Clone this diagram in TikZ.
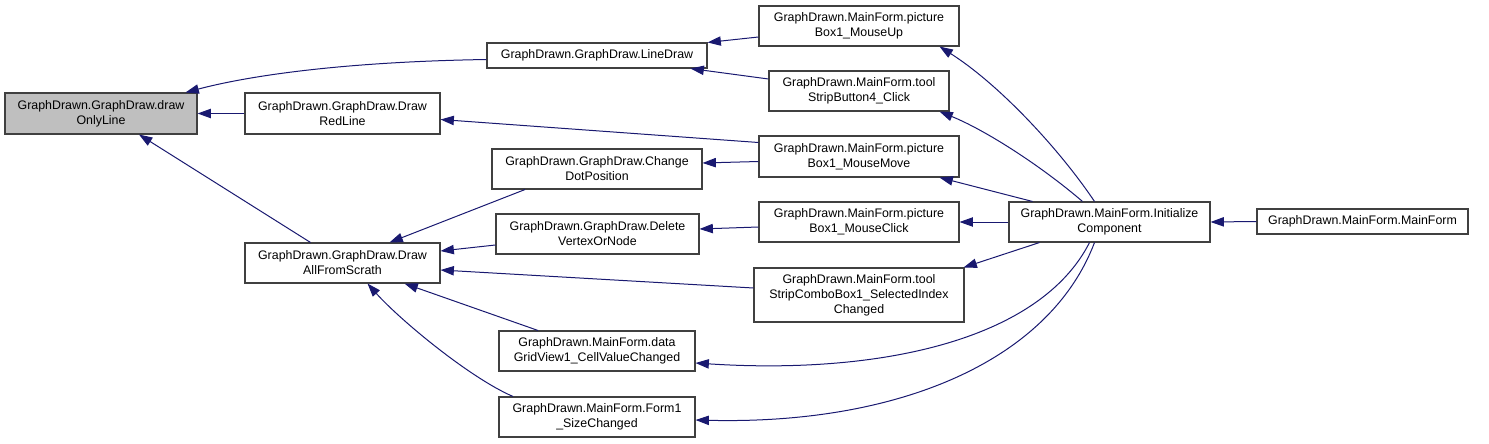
\documentclass[tikz,border=0pt]{standalone}
\usepackage{fontspec}
\setmainfont{Liberation Sans}
\usetikzlibrary{arrows.meta,positioning,calc}
\definecolor{edgeblue}{HTML}{191970}
\definecolor{boxline}{HTML}{404040}
\definecolor{focusbg}{HTML}{BFBFBF}
\tikzset{
  fnbox/.style={draw=boxline,fill=white,line width=0.8pt,
                align=center,inner sep=2pt,
                font=\fontsize{9.3}{11.25}\selectfont},
  focusbox/.style={fnbox,fill=focusbg},
  callarr/.style={-{Triangle[length=10pt,width=7pt]},line width=0.75pt,color=edgeblue}
}

\begin{document}
\begin{tikzpicture}[x=0.75pt,y=-0.75pt]
  \useasboundingbox (0,0) rectangle (1489,443);
  % column 1 and 2
  \node[focusbox,minimum width=144pt,minimum height=30.75pt] (drawonly) at (101,113.5)
    {GraphDrawn.GraphDraw.draw\\OnlyLine};
  \node[fnbox,minimum width=146.25pt,minimum height=30.75pt] (redline) at (342.5,113.5)
    {GraphDrawn.GraphDraw.Draw\\RedLine};
  \node[fnbox,minimum width=146.25pt,minimum height=30pt] (drawall) at (342.5,263)
    {GraphDrawn.GraphDraw.Draw\\AllFromScrath};
  % column 3
  \node[fnbox,minimum width=165pt,minimum height=18.75pt] (linedraw) at (597,55.5)
    {GraphDrawn.GraphDraw.LineDraw};
  \node[fnbox,minimum width=157.5pt,minimum height=30pt] (changedot) at (597,169)
    {GraphDrawn.GraphDraw.Change\\DotPosition};
  \node[fnbox,minimum width=152.25pt,minimum height=30pt] (delvertex) at (597.5,234)
    {GraphDrawn.GraphDraw.Delete\\VertexOrNode};
  \node[fnbox,minimum width=147pt,minimum height=30pt] (datagrid) at (597,351)
    {GraphDrawn.MainForm.data\\GridView1\_CellValueChanged};
  \node[fnbox,minimum width=147pt,minimum height=30pt] (form1) at (597,417)
    {GraphDrawn.MainForm.Form1\\\_SizeChanged};
  % column 4
  \node[fnbox,minimum width=150pt,minimum height=30pt] (mouseup) at (859,26)
    {GraphDrawn.MainForm.picture\\Box1\_MouseUp};
  \node[fnbox,minimum width=135pt,minimum height=30pt] (stripbtn) at (859,91)
    {GraphDrawn.MainForm.tool\\StripButton4\_Click};
  \node[fnbox,minimum width=150pt,minimum height=30.75pt] (mousemove) at (859,156.5)
    {GraphDrawn.MainForm.picture\\Box1\_MouseMove};
  \node[fnbox,minimum width=150pt,minimum height=30pt] (mouseclick) at (859,222)
    {GraphDrawn.MainForm.picture\\Box1\_MouseClick};
  \node[fnbox,minimum width=157.5pt,minimum height=40.5pt] (combo) at (859,295)
    {GraphDrawn.MainForm.tool\\StripComboBox1\_SelectedIndex\\Changed};
  % column 5 and 6
  \node[fnbox,minimum width=150.75pt,minimum height=30pt] (init) at (1109.5,222)
    {GraphDrawn.MainForm.Initialize\\Component};
  \node[fnbox,minimum width=158.25pt,minimum height=18.75pt] (mainform) at (1362.5,221.5)
    {GraphDrawn.MainForm.MainForm};

  % calls into drawOnlyLine
  \draw[callarr] ($(linedraw.west)+(0,4)$) .. controls (330,62) and (240,78) .. ($(drawonly.north east)+(-12,0)$);
  \draw[callarr] (redline.west) -- (drawonly.east);
  \draw[callarr] ($(drawall.north)+(-32,0)$) -- ($(drawonly.south)+(38,0)$);
  \draw[callarr] ($(mouseup.west)+(0,11)$) -- (linedraw.north east);
  \draw[callarr] ($(stripbtn.west)+(0,-12)$) -- ($(linedraw.south east)+(-17,0)$);
  \draw[callarr] ($(mousemove.west)+(0,-14)$) -- ($(redline.east)+(0,6)$);
  \draw[callarr] ($(mousemove.west)+(0,5)$) -- ($(changedot.east)+(0,-6)$);
  \draw[callarr] ($(changedot.south)+(-72,0)$) -- ($(drawall.north)+(47,0)$);
  \draw[callarr] ($(delvertex.west)+(0,11)$) -- ($(drawall.east)+(0,-12)$);
  \draw[callarr] ($(mouseclick.west)+(0,5)$) -- ($(delvertex.east)+(0,-5)$);
  \draw[callarr] ($(combo.west)+(0,-7)$) -- ($(drawall.east)+(0,7)$);
  \draw[callarr] ($(datagrid.north)+(-59,0)$) -- ($(drawall.south)+(62,0)$);
  \draw[callarr] ($(form1.north)+(-84,0)$) .. controls (470,378) and (400,320) .. ($(drawall.south)+(25,0)$);
  % calls from InitializeComponent
  \draw[callarr] ($(init.north)+(-15,0)$) .. controls (1060,150) and (1000,85) .. ($(mouseup.south east)+(-20,0)$);
  \draw[callarr] ($(init.north)+(-27,0)$) .. controls (1040,165) and (985,130) .. ($(stripbtn.south east)+(-10,0)$);
  \draw[callarr] ($(init.north)+(-77,0)$) -- ($(mousemove.south east)+(-20,0)$);
  \draw[callarr] (init.west) -- (mouseclick.east);
  \draw[callarr] ($(init.south)+(-70,0)$) -- ($(combo.north east)+(-1,0)$);
  \draw[callarr] ($(init.south)+(-20,0)$) .. controls (1040,340) and (880,375) .. ($(datagrid.east)+(0,12)$);
  \draw[callarr] ($(init.south)+(-15,0)$) .. controls (1050,360) and (900,425) .. ($(form1.east)+(0,3)$);
  \draw[callarr] (mainform.west) -- (init.east);
\end{tikzpicture}
\end{document}
